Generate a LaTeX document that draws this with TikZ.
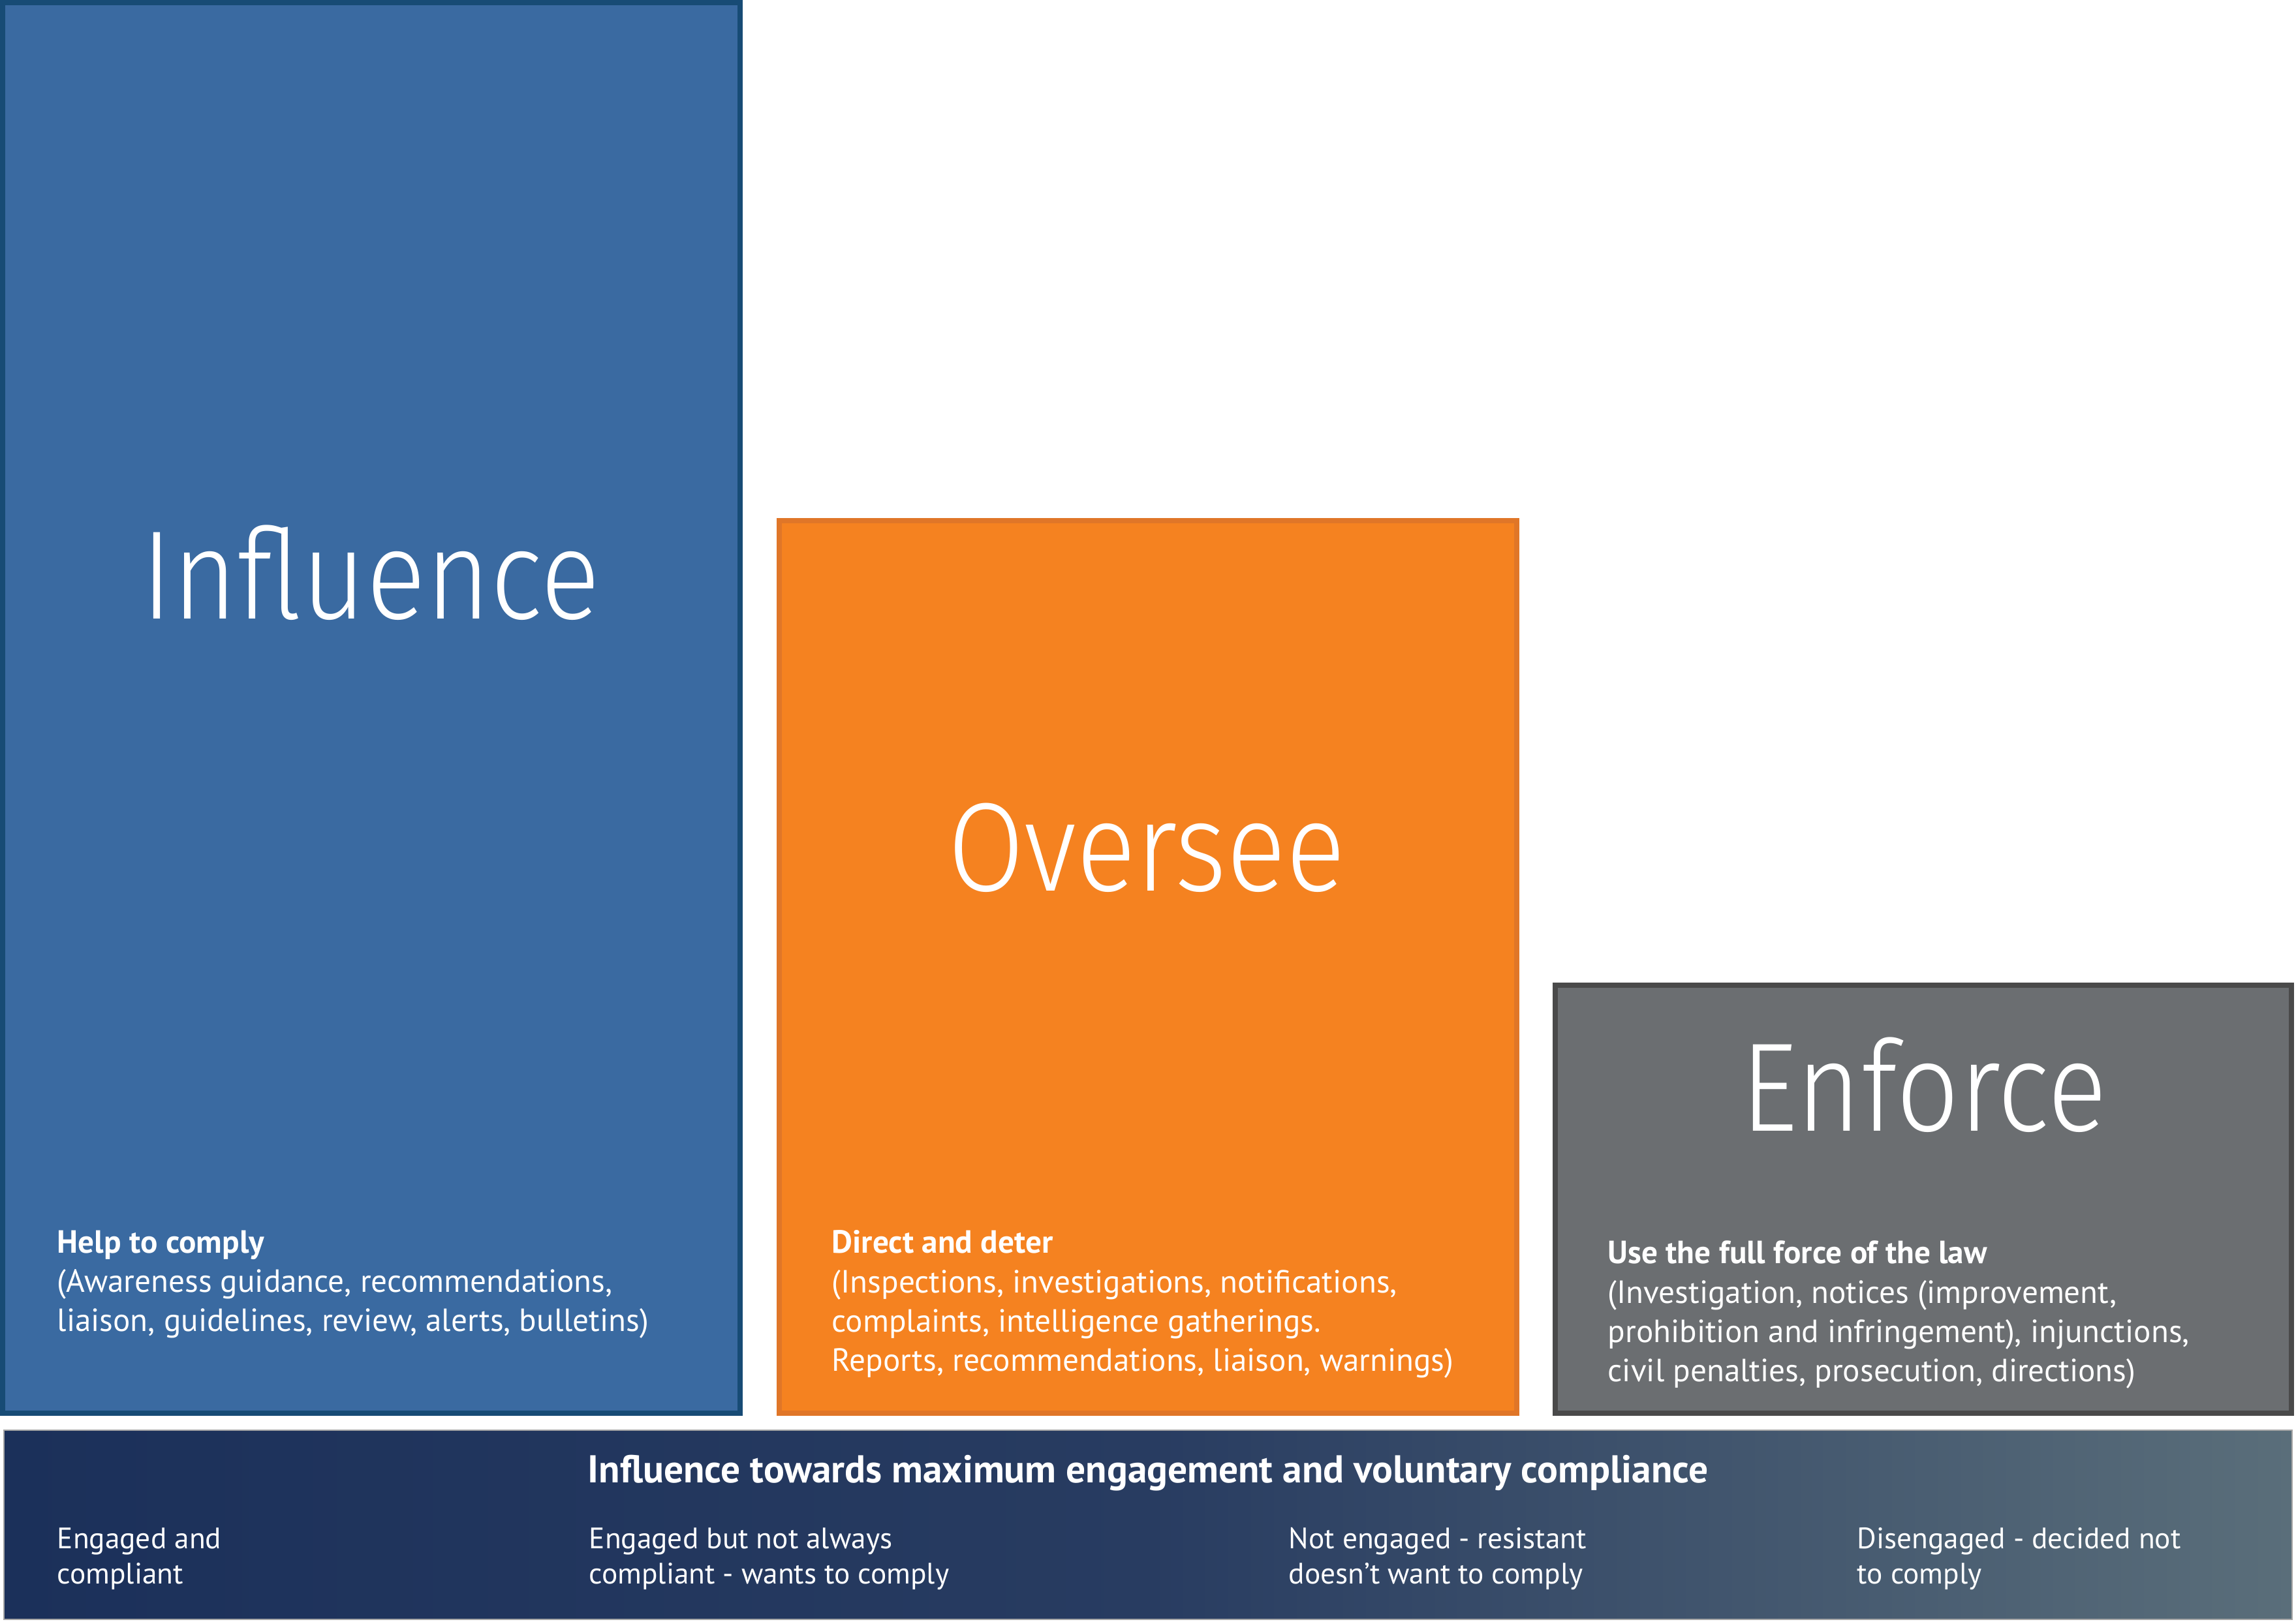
\documentclass[tikz,border=0pt]{standalone}
\usepackage{fontspec}
\setmainfont{PT Sans}
\newfontfamily\titlefont{Fira Sans Light}[FakeStretch=0.88]
\definecolor{inflfill}{RGB}{58,106,161}
\definecolor{inflline}{RGB}{23,75,117}
\definecolor{ovfill}{RGB}{245,130,32}
\definecolor{ovline}{RGB}{224,118,40}
\definecolor{enffill}{RGB}{107,110,113}
\definecolor{enfline}{RGB}{74,74,74}
\definecolor{barleft}{RGB}{27,48,90}
\definecolor{barmid}{RGB}{40,60,97}
\definecolor{barright}{RGB}{90,110,122}
\tikzset{
    box/.style={line width=0.08cm},
    title/.style={text=white, font=\titlefont\fontsize{55}{60}\selectfont, anchor=base},
    body/.style={text=white, font=\fontsize{14}{17.2}\selectfont, align=left, anchor=base west, inner sep=0pt},
    level/.style={text=white, font=\fontsize{12.9}{15.6}\selectfont, align=left, anchor=base west, inner sep=0pt}
}
\begin{document}
\begin{tikzpicture}
    \useasboundingbox (0, 0) rectangle (35.18, 24.86);
    \draw[box, draw=inflline, fill=inflfill] (0.04, 3.20) rectangle (11.34, 24.82);
    \draw[box, draw=ovline, fill=ovfill] (11.94, 3.20) rectangle (23.24, 16.88);
    \draw[box, draw=enfline, fill=enffill] (23.83, 3.20) rectangle (35.11, 9.76);
    \shade[left color=barleft, right color=barright, middle color=barmid] (0.06, 0.04) rectangle (35.12, 2.94);
    \draw[line width=0.02cm, draw=gray!70] (0.06, 0.04) rectangle (35.12, 2.94);
    \node[title] (influence) at (5.68, 15.37) {Influence};
    \node[title] (oversee) at (17.57, 11.20) {Oversee};
    \node[title] (enforce) at (29.48, 7.52) {Enforce};
    \node[body] (help) at (0.87, 4.45) {\textbf{Help to comply}\\(Awareness guidance, recommendations,\\liaison, guidelines, review, alerts, bulletins)};
    \node[body] (direct) at (12.74, 3.84) {\textbf{Direct and deter}\\(Inspections, investigations, notifications,\\complaints, intelligence gatherings.\\Reports, recommendations, liaison, warnings)};
    \node[body] (force) at (24.63, 3.68) {\textbf{Use the full force of the law}\\(Investigation, notices (improvement,\\prohibition and infringement), injunctions,\\civil penalties, prosecution, directions)};
    \node[text=white, font=\bfseries\fontsize{16.9}{18}\selectfont, anchor=base] (towards) at (17.59, 2.13) {Influence towards maximum engagement and voluntary compliance};
    \node[level] (engaged) at (0.87, 0.58) {Engaged and\\compliant};
    \node[level] (notalways) at (9.02, 0.58) {Engaged but not always\\compliant - wants to comply};
    \node[level] (resistant) at (19.74, 0.58) {Not engaged - resistant\\doesn’t want to comply};
    \node[level] (disengaged) at (28.45, 0.58) {Disengaged - decided not\\to comply};
\end{tikzpicture}
\end{document}
